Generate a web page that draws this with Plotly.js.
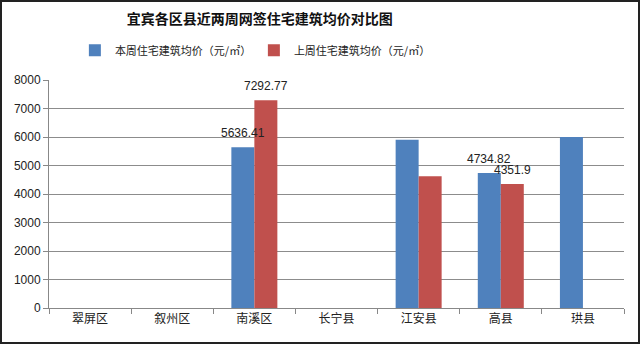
<!DOCTYPE html>
<html>
<head>
<meta charset="utf-8">
<script src="https://cdn.plot.ly/plotly-3.0.1.min.js"></script>
<style>
html,body{margin:0;padding:0;background:#fff;}
#wrap{position:relative;width:640px;height:344px;}
#chart{width:640px;height:344px;}
#frame{position:absolute;left:0;top:0;width:640px;height:344px;box-sizing:border-box;border:2px solid #222;pointer-events:none;}
</style>
</head>
<body>
<div id="wrap"><div id="chart"></div><div id="frame"></div></div>
<script>
const categories = ["翠屏区","叙州区","南溪区","长宁县","江安县","高县","珙县"];
const thisWeek = [null, null, 5636.41, null, 5900, 4734.82, 6000];
const lastWeek = [null, null, 7292.77, null, 4620, 4351.9, null];
const thisWeekLabels = ["","","5636.41","","","4734.82",""];
const lastWeekLabels = ["","","7292.77","","","4351.9",""];
const yTicks = [0,1000,2000,3000,4000,5000,6000,7000,8000];

const font = "Liberation Sans, Noto Sans CJK SC, sans-serif";
const cjk = "Noto Sans CJK SC, sans-serif";
const traces = [
  {type:"bar", name:"本周住宅建筑均价（元/㎡）", x:categories, y:thisWeek,
   marker:{color:"#4f81bd"}},
  {type:"bar", name:"上周住宅建筑均价（元/㎡）", x:categories, y:lastWeek,
   marker:{color:"#c0504d"}}
];

// value labels drawn on top of all bars (as in the reference)
const annotations = [];
function addLabels(vals, labels, shift) {
  categories.forEach((c, i) => {
    if (labels[i]) {
      annotations.push({x:c, y:vals[i], xref:"x", yref:"y", text:labels[i], showarrow:false,
        xanchor:"center", yanchor:"bottom", xshift:shift, yshift:5,
        font:{size:12, family:font, color:"#222"}});
    }
  });
}
addLabels(thisWeek, thisWeekLabels, -11.5);
addLabels(lastWeek, lastWeekLabels, 11.5);

const layout = {
  width:640, height:344,
  margin:{l:49, r:16, t:80, b:36},
  paper_bgcolor:"#fff", plot_bgcolor:"#fff",
  font:{family:font, size:11, color:"#222"},
  title:{text:"<b>宜宾各区县近两周网签住宅建筑均价对比图</b>", x:0.406, xanchor:"center", y:0.945, yanchor:"middle",
         font:{size:14, family:cjk, color:"#111"}},
  showlegend:true,
  legend:{orientation:"h", x:0.045, xanchor:"left", y:1.13, yanchor:"middle",
          font:{size:11, family:cjk, color:"#222"},
          entrywidth:134, entrywidthmode:"pixels", traceorder:"normal"},
  bargap:0.44, bargroupgap:0,
  annotations:annotations,
  xaxis:{type:"category", showline:true, linecolor:"#888", linewidth:1,
         ticks:"outside", tickson:"boundaries", ticklen:5, tickcolor:"#888",
         showgrid:false, tickfont:{size:12, family:cjk, color:"#222"}},
  yaxis:{range:[0,8000], tickvals:yTicks, ticktext:yTicks.map(String),
         showline:true, linecolor:"#888", linewidth:1,
         ticks:"outside", ticklen:5, tickcolor:"#888",
         showgrid:true, gridcolor:"#8c8c8c", gridwidth:1, zeroline:false,
         tickfont:{size:12, family:font, color:"#222"}}
};
Plotly.newPlot("chart", traces, layout, {displayModeBar:false, staticPlot:true});
</script>
</body>
</html>
